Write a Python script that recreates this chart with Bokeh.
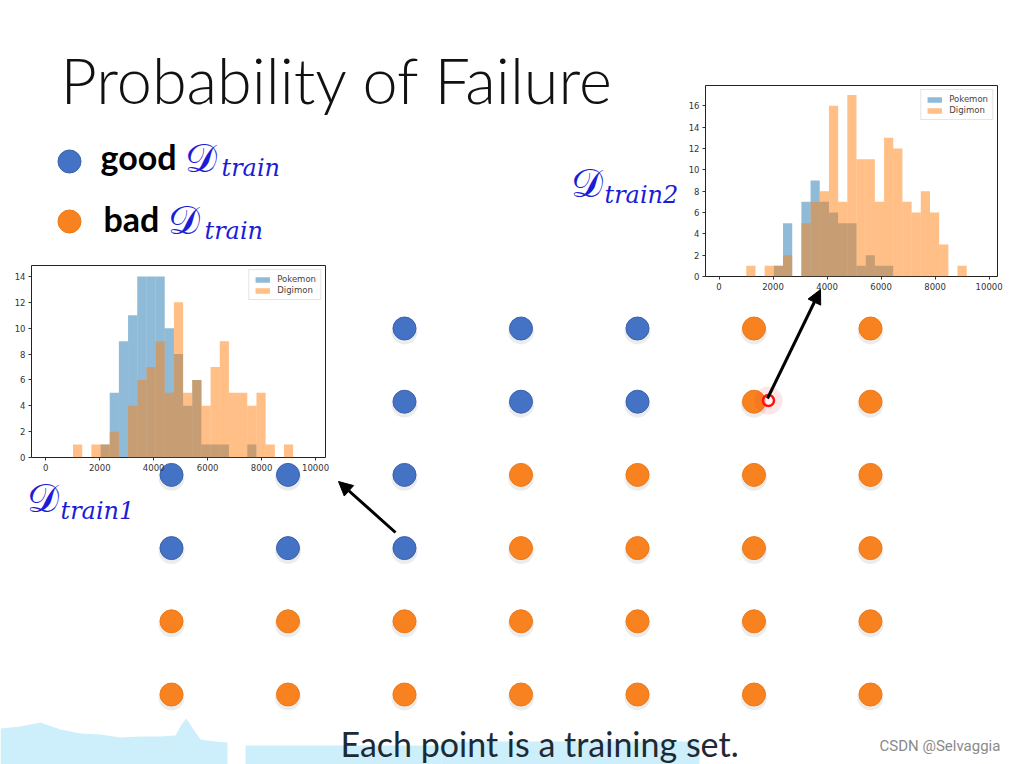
from bokeh.plotting import figure
from bokeh.models import (Range1d, ColumnDataSource, Arrow, NormalHead, Legend, LegendItem,
                          FixedTicker)
from bokeh.core.properties import value
from bokeh.embed import file_html
from bokeh.resources import INLINE
from bokeh.transform import dodge

# ---------------- data ----------------
grid_cols = [1, 2, 3, 4, 5, 6, 7]
grid_rows = [1, 2, 3, 4, 5, 6]
grid_status = [
    "GGGGGBB",
    "GGGGGBB",
    "GGGBBBB",
    "GGGBBBB",
    "BBBBBBB",
    "BBBBBBB",
]

bin_edges = [1010, 1350, 1690, 2030, 2370, 2710, 3050, 3390, 3730, 4070, 4410, 4750, 5090,
             5430, 5770, 6110, 6450, 6790, 7130, 7470, 7810, 8150, 8490, 8830, 9170]
hist1_pokemon = [0, 0, 0, 1, 5, 9, 11, 14, 14, 14, 10, 8, 4, 6, 1, 1, 1, 0, 0, 1, 0, 0, 0, 0]
hist1_digimon = [1, 0, 1, 1, 2, 0, 4, 6, 7, 9, 5, 12, 5, 6, 4, 7, 9, 5, 5, 4, 5, 1, 0, 1]
hist2_pokemon = [0, 0, 0, 1, 5, 0, 7, 9, 7, 6, 5, 5, 1, 2, 1, 1, 0, 0, 0, 0, 0, 0, 0, 0]
hist2_digimon = [1, 0, 1, 1, 2, 0, 5, 7, 8, 16, 7, 17, 11, 11, 7, 13, 12, 7, 6, 8, 6, 3, 0, 1]
hist_x_ticks = [0, 2000, 4000, 6000, 8000, 10000]
hist1_y_ticks = [0, 2, 4, 6, 8, 10, 12, 14]
hist2_y_ticks = [0, 2, 4, 6, 8, 10, 12, 14, 16]
series_names = ["Pokemon", "Digimon"]

title_text = "Probability of Failure"
legend_words = ["good", "bad"]
caption_text = "Each point is a training set."
watermark_text = "CSDN @Selvaggia"

BLUE = "#4472c4"
BLUE_EDGE = "#3a62ad"
ORANGE = "#f7821f"
ORANGE_EDGE = "#ee7a18"
SCRIPT_BLUE = "#1c1cd6"

# ---------------- main slide figure ----------------
W, H = 1013, 764
col_px = (171, 870)
row_px = (328, 694)
dx = (col_px[1] - col_px[0]) / 6
dy = (row_px[1] - row_px[0]) / 5
x_rng = Range1d(1 - col_px[0] / dx, 7 + (W - col_px[1]) / dx)
y_rng = Range1d(6 + (H - row_px[1]) / dy, 1 - row_px[0] / dy)

p = figure(width=W, height=H, x_range=x_rng, y_range=y_rng, output_backend="svg",
           toolbar_location=None, x_axis_location=None, y_axis_location=None,
           min_border=0, outline_line_color=None)
p.grid.visible = False
p.extra_x_ranges = {"px": Range1d(0, W)}
p.extra_y_ranges = {"px": Range1d(H, 0)}
PX = dict(x_range_name="px", y_range_name="px")


def mid(baseline, size):
    # vertical middle of a text line whose alphabetic baseline is given
    return baseline - 0.42 * size


# light blue video-band decoration at bottom
band_x = [0, 20, 40, 60, 80, 100, 120, 140, 160, 175, 181, 186, 191, 200, 215, 227, 227, 0]
band_y = [728, 726, 722, 729, 733, 734, 737, 736, 736, 735, 724, 718, 726, 739, 741, 742, 764, 764]
p.patch(band_x, band_y, fill_color="#cdeefb", line_color=None, **PX)
p.quad(left=[245, 441], right=[441, 699], top=[745, 741], bottom=[764, 764],
       fill_color="#cdeefb", line_color=None, **PX)

# grid of training sets
xs, ys, cs, es = [], [], [], []
for r, row in zip(grid_rows, grid_status):
    for c, s in zip(grid_cols, row):
        xs.append(c); ys.append(r)
        cs.append(BLUE if s == "G" else ORANGE)
        es.append(BLUE_EDGE if s == "G" else ORANGE_EDGE)
src = ColumnDataSource(dict(x=xs, y=ys, c=cs, e=es))
p.scatter(x="x", y=dodge("y", 0.04, range=p.y_range), size=26, source=src,
          fill_color="#888888", fill_alpha=0.16, line_color=None)
p.scatter(x="x", y="y", size=23, source=src, fill_color="c", line_color="e", line_width=1)

# legend dots + text
leg_src = ColumnDataSource(dict(x=[69, 69], y=[161, 221], c=[BLUE, ORANGE], e=[BLUE_EDGE, ORANGE_EDGE]))
p.scatter(x="x", y="y", size=23, source=leg_src, fill_color="c", line_color="e", **PX)
p.text(x=[100, 103], y=[mid(170, 34), mid(232, 34)], text=legend_words, text_font=value("Lato"),
       text_font_style="bold", text_font_size="34px", text_color="#000000",
       text_baseline="middle", **PX)

# script D labels
d_x = [184, 167, 570, 26]
d_y = [mid(174, 40), mid(236, 40), mid(199, 40), mid(514, 40)]
sub_x = [221, 204, 604, 60]
sub_y = [mid(178, 24), mid(241, 24), mid(205, 24), mid(521, 24)]
sub_t = ["train", "train", "train2", "train1"]
p.text(x=d_x, y=d_y, text=["\U0001D49F"] * 4, text_font=value("DejaVu Serif"),
       text_font_size="40px", text_color=SCRIPT_BLUE, text_baseline="middle", **PX)
p.text(x=sub_x, y=sub_y, text=sub_t, text_font=value("DejaVu Serif"), text_font_style="italic",
       text_font_size="24px", text_color=SCRIPT_BLUE, text_baseline="middle", **PX)

# title and caption
p.text(x=[60], y=[mid(105, 63)], text=[title_text], text_font=value("Lato Light, Lato"),
       text_font_size="63px", text_color="#111111", text_baseline="middle", **PX)
p.text(x=[340], y=[mid(757, 34)], text=[caption_text], text_font=value("Lato"),
       text_font_size="34px", text_color="#1e2a33", text_baseline="middle", **PX)
p.text(x=[879], y=[mid(752, 15)], text=[watermark_text], text_font=value("Roboto"),
       text_font_size="15px", text_color="#8a8a8a", text_baseline="middle", **PX)

# arrows & highlight
p.add_layout(Arrow(end=NormalHead(size=14, fill_color="black", line_color="black"),
                   x_start=395, y_start=532, x_end=338, y_end=481, line_width=3,
                   line_color="black", **PX))
p.add_layout(Arrow(end=NormalHead(size=14, fill_color="black", line_color="black"),
                   x_start=767, y_start=398, x_end=820, y_end=289, line_width=3,
                   line_color="black", **PX))
p.scatter(x=[768], y=[400], size=28, fill_color="#ff3030", fill_alpha=0.12, line_color=None, **PX)
p.scatter(x=[768], y=[400], size=11, fill_color="white", fill_alpha=0.6, line_color="#ff1010",
          line_width=2.5, **PX)


# ---------------- histogram insets ----------------
def make_hist(pok, dig, x_range, y_top, y_ticks, left, top, fw, fh):
    h = figure(width=28 + fw + 6, height=6 + fh + 22, x_range=Range1d(*x_range),
               y_range=Range1d(0, y_top), output_backend="svg", toolbar_location=None,
               min_border_left=28, min_border_right=6, min_border_top=6, min_border_bottom=22,
               border_fill_color=None, outline_line_color="#222222", outline_line_width=1,
               styles={"position": "absolute", "left": f"{left}px", "top": f"{top}px"})
    h.grid.visible = False
    s = ColumnDataSource(dict(l=bin_edges[:-1], r=bin_edges[1:], pok=pok, dig=dig))
    r1 = h.quad(left="l", right="r", bottom=0, top="pok", source=s, fill_color="#1f77b4",
                fill_alpha=0.5, line_color=None)
    r2 = h.quad(left="l", right="r", bottom=0, top="dig", source=s, fill_color="#ff7f0e",
                fill_alpha=0.5, line_color=None)
    h.xaxis.ticker = FixedTicker(ticks=hist_x_ticks)
    h.yaxis.ticker = FixedTicker(ticks=y_ticks)
    for ax in (h.xaxis[0], h.yaxis[0]):
        ax.axis_line_color = None
        ax.major_tick_in = 0
        ax.major_tick_out = 3
        ax.minor_tick_line_color = None
        ax.major_tick_line_color = "#333333"
        ax.major_label_text_font = "DejaVu Sans"
        ax.major_label_text_font_size = "8.5px"
        ax.major_label_text_color = "#333333"
        ax.major_label_standoff = 3
    leg = Legend(items=[LegendItem(label=series_names[0], renderers=[r1]),
                        LegendItem(label=series_names[1], renderers=[r2])],
                 location="top_right", label_text_font_size="8.5px",
                 label_text_font="DejaVu Sans", glyph_height=7, glyph_width=18,
                 label_height=9, spacing=1, padding=4, margin=4, label_standoff=6,
                 border_line_color="#cccccc", background_fill_alpha=0.85)
    h.add_layout(leg)
    return h


h1 = make_hist(hist1_pokemon, hist1_digimon, (-530, 10370), 14.85, hist1_y_ticks,
               3, 259, 294, 192)
h2 = make_hist(hist2_pokemon, hist2_digimon, (-500, 10310), 17.9, hist2_y_ticks,
               677, 79, 292, 191)

open("out.html", "w").write(file_html([p, h1, h2], INLINE))
